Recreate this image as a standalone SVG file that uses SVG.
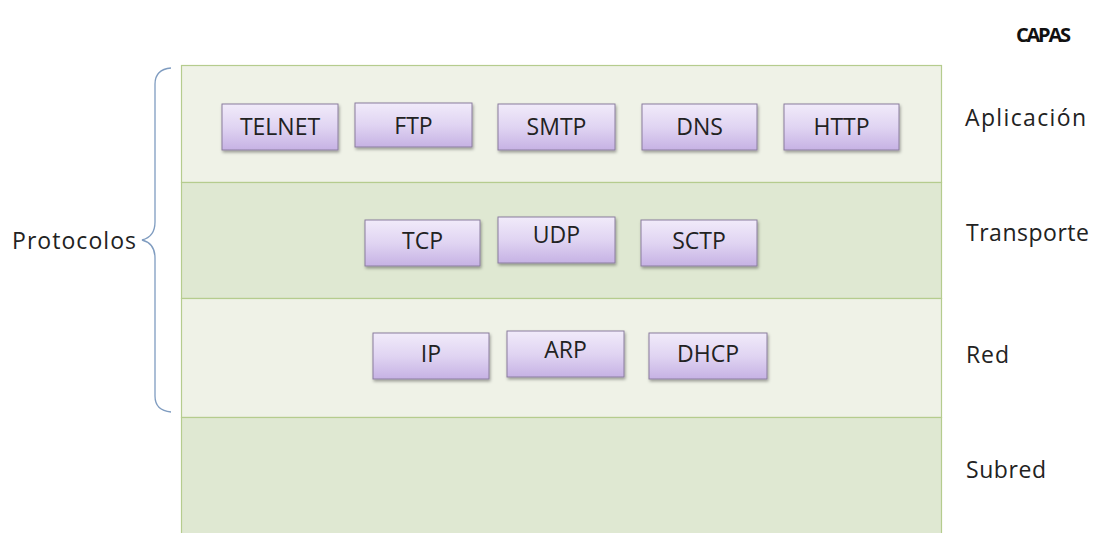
<svg xmlns="http://www.w3.org/2000/svg" width="1097" height="533" viewBox="0 0 1097 533">
<defs>
<linearGradient id="boxg" x1="0" y1="0" x2="0" y2="1">
<stop offset="0" stop-color="#f1ebfa"/>
<stop offset="0.5" stop-color="#e0d4f2"/>
<stop offset="1" stop-color="#c6b2e4"/>
</linearGradient>
<filter id="sh" x="-10%" y="-10%" width="130%" height="140%">
<feDropShadow dx="1" dy="2" stdDeviation="1.5" flood-color="#000" flood-opacity="0.35"/>
</filter>
</defs>
<style>
.lay-light{fill:#eff2e7;stroke:#b5cc8e;stroke-width:1.2}
.lay-dark{fill:#dfe8d2;stroke:#b5cc8e;stroke-width:1.2}
.box{fill:url(#boxg);stroke:#8a7c9e;stroke-width:1;filter:url(#sh)}
.bt{font-family:"Open Sans","Liberation Sans",sans-serif;font-size:23px;fill:#222;text-anchor:middle}
.lbl{font-family:"Open Sans","Liberation Sans",sans-serif;font-size:23px;fill:#222}
.ttl{font-family:"Open Sans","Liberation Sans",sans-serif;font-size:20px;font-weight:bold;fill:#111}
.brace{fill:none;stroke:#7f9cc0;stroke-width:1.3}
</style>
<rect width="1097" height="533" fill="#ffffff"/>
<g id="layers">
<rect id="layer-aplicacion" class="lay-light" x="181.5" y="65.5" width="760" height="117"/>
<rect id="layer-transporte" class="lay-dark" x="181.5" y="182.5" width="760" height="116"/>
<rect id="layer-red" class="lay-light" x="181.5" y="298.5" width="760" height="119"/>
<rect id="layer-subred" class="lay-dark" x="181.5" y="417.5" width="760" height="120"/>
</g>
<g id="node-telnet"><rect class="box" x="222" y="104" width="116" height="46"/><text class="bt" x="280" y="135">TELNET</text></g>
<g id="node-ftp"><rect class="box" x="355" y="103" width="117" height="44"/><text class="bt" x="413.5" y="134">FTP</text></g>
<g id="node-smtp"><rect class="box" x="498" y="104" width="117" height="46"/><text class="bt" x="556.5" y="135">SMTP</text></g>
<g id="node-dns"><rect class="box" x="642" y="104" width="115" height="46"/><text class="bt" x="699.5" y="135">DNS</text></g>
<g id="node-http"><rect class="box" x="784" y="104" width="115" height="46"/><text class="bt" x="841.5" y="135">HTTP</text></g>
<g id="node-tcp"><rect class="box" x="365" y="220" width="115" height="46"/><text class="bt" x="422.5" y="249">TCP</text></g>
<g id="node-udp"><rect class="box" x="498" y="217" width="117" height="46"/><text class="bt" x="556.5" y="243">UDP</text></g>
<g id="node-sctp"><rect class="box" x="641" y="220" width="116" height="46"/><text class="bt" x="699" y="249">SCTP</text></g>
<g id="node-ip"><rect class="box" x="373" y="333" width="116" height="46"/><text class="bt" x="431" y="362">IP</text></g>
<g id="node-arp"><rect class="box" x="507" y="331" width="117" height="46"/><text class="bt" x="565.5" y="358">ARP</text></g>
<g id="node-dhcp"><rect class="box" x="649" y="333" width="118" height="46"/><text class="bt" x="708" y="362">DHCP</text></g>
<g id="labels">
<text class="ttl" x="1016" y="42" textLength="55">CAPAS</text>
<text class="lbl" x="965" y="126" textLength="121">Aplicación</text>
<text class="lbl" x="966" y="241" textLength="123">Transporte</text>
<text class="lbl" x="966" y="363" textLength="43">Red</text>
<text class="lbl" x="966" y="478" textLength="80">Subred</text>
<text class="lbl" x="12" y="249" textLength="124">Protocolos</text>
</g>
<g id="connectors">
<path class="brace" d="M171,68 C160,69 155,74 155,84 L155,222 C155,232 150,238 142,240 C150,242 155,248 155,258 L155,396 C155,406 160,411 171,412"/>
</g>
</svg>
